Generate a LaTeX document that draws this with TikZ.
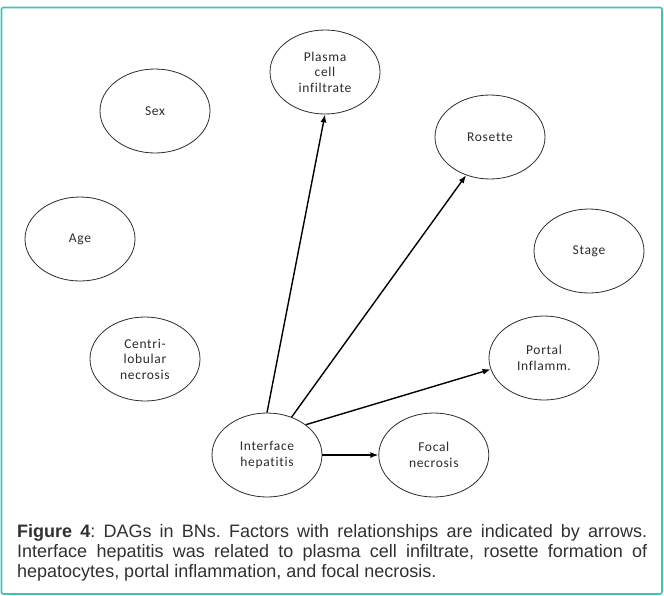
\documentclass[tikz,border=0pt]{standalone}
\usepackage{fontspec}
\usepackage{xcolor}
\usetikzlibrary{arrows.meta,positioning,shapes.geometric}
\newfontfamily\factorFont{Carlito}[LetterSpace=5.0,Ligatures=NoCommon]
\newfontfamily\captionFont{Liberation Sans}
\definecolor{frameTeal}{HTML}{3EC6B2}
\definecolor{edgeGray}{HTML}{2B2B2B}
\definecolor{captionGray}{HTML}{303030}
\hyphenpenalty=10000
\exhyphenpenalty=10000
\frenchspacing
\tikzset{
  arrow/.style={-{Latex[length=8pt,width=6pt]}, draw=black, line width=1.4pt},
  factor/.style={ellipse, draw=edgeGray, line width=0.8pt, fill=white, minimum width=110pt, minimum height=84pt, inner sep=0pt, align=center, text=edgeGray, font=\factorFont\fontsize{13.5}{15.5}\selectfont},
  captionText/.style={anchor=north west, text width=630pt, align=justify, inner sep=0pt, text=captionGray, font=\captionFont\fontsize{18}{20}\selectfont}
}

\begin{document}
\begin{tikzpicture}[x=1pt,y=-1pt]
\useasboundingbox (0,0) rectangle (664,595);

% --------------------------------------------------------------------------
% Frame
% --------------------------------------------------------------------------
\draw[frameTeal, line width=1.6pt, rounded corners=2pt] (1.5,7.5) rectangle (662,594);

% --------------------------------------------------------------------------
% Factors
% --------------------------------------------------------------------------
\node[factor] (plasma) at (325,72) {Plasma\\cell\\infiltrate};
\node[factor] (sex) at (155,111) {Sex};
\node[factor] (rosette) at (490,137) {Rosette};
\node[factor] (age) at (80,239) {Age};
\node[factor] (stage) at (589,251) {Stage};
\node[factor] (centri) at (145,359) {Centri-\\lobular\\necrosis};
\node[factor] (portal) at (544,358) {Portal\\Inflamm.};
\node[factor] (iface) at (267,455) {Interface\\hepatitis};
\node[factor, right=56pt of iface] (focal) {Focal\\necrosis};

% --------------------------------------------------------------------------
% Relationships
% --------------------------------------------------------------------------
\draw[arrow] (iface.north) -- (plasma.south);
\draw[arrow] (iface.57) -- (rosette.238);
\draw[arrow] (iface.38) -- (portal.192);
\draw[arrow] (iface.east) -- (focal.west);

% --------------------------------------------------------------------------
% Caption
% --------------------------------------------------------------------------
\node[captionText] (caption) at (17,524) {\textbf{Figure 4}: DAGs in BNs. Factors with relationships are indicated by arrows. Interface hepatitis was related to plasma cell infiltrate, rosette formation of hepatocytes, portal inflammation, and focal necrosis.};

\end{tikzpicture}
\end{document}
